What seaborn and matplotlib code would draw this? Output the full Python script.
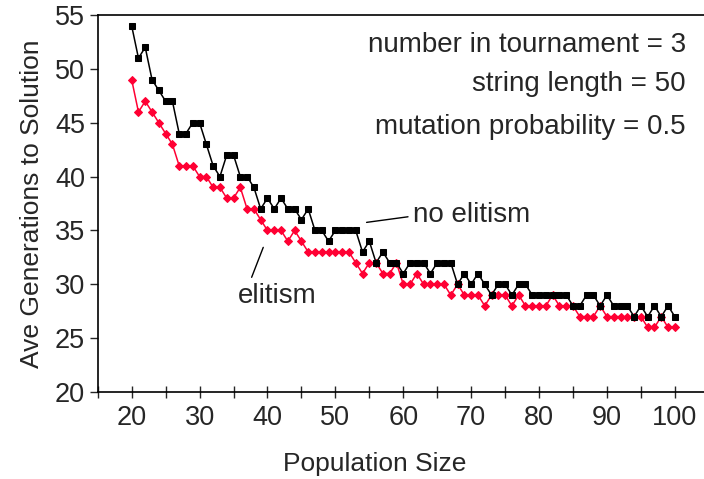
import matplotlib
matplotlib.use("Agg")
import matplotlib.pyplot as plt
import seaborn as sns
import pandas as pd

# Population sizes 20..100
population = list(range(20, 101))

no_elitism = [54, 51, 52, 49, 48, 47, 47, 44, 44, 45, 45, 43, 41, 40, 42, 42, 40, 40, 39, 37,
              38, 37, 38, 37, 37, 36, 37, 35, 35, 34, 35, 35, 35, 35, 33, 34, 32, 33, 32, 32,
              31, 32, 32, 32, 31, 32, 32, 32, 30, 31, 30, 31, 30, 29, 30, 30, 29, 30, 30, 29,
              29, 29, 29, 29, 29, 28, 28, 29, 29, 28, 29, 28, 28, 28, 27, 28, 27, 28, 27, 28,
              27]

elitism = [49, 46, 47, 46, 45, 44, 43, 41, 41, 41, 40, 40, 39, 39, 38, 38, 39, 37, 37, 36,
           35, 35, 35, 34, 35, 34, 33, 33, 33, 33, 33, 33, 33, 32, 31, 32, 32, 31, 31, 32,
           30, 30, 31, 30, 30, 30, 30, 29, 30, 29, 29, 29, 28, 29, 29, 29, 28, 29, 28, 28,
           28, 28, 29, 28, 28, 28, 27, 27, 27, 28, 27, 27, 27, 27, 27, 27, 26, 26, 27, 26,
           26]

param_lines = ["number in tournament = 3", "string length = 50", "mutation probability = 0.5"]

sns.set_style("ticks")
plt.rcParams["font.family"] = ["Liberation Sans", "DejaVu Sans"]

df = pd.DataFrame({"pop": population, "no": no_elitism, "el": elitism})

fig = plt.figure(figsize=(7.04, 4.79), dpi=100)
# the plot box runs a little past the right edge of the figure
ax = fig.add_axes([0.1388, 0.1816, 0.868, 0.787])

sns.lineplot(data=df, x="pop", y="el", ax=ax, color="#FF0033", marker="D",
             markersize=4.0, markeredgecolor="#FF0033", linewidth=1.1, zorder=2)
sns.lineplot(data=df, x="pop", y="no", ax=ax, color="black", marker="s",
             markersize=4.8, markeredgecolor="black", linewidth=1.1, zorder=3)

ax.set_xlim(15, 105)
ax.set_ylim(20, 55)
ax.set_xticks(range(15, 106, 5))
ax.set_xticklabels([str(v) if v % 10 == 0 and 20 <= v <= 100 else "" for v in range(15, 106, 5)])
ax.set_yticks(range(20, 56, 5))
ax.tick_params(axis="x", direction="inout", length=9, width=1, labelsize=19.5, pad=5)
ax.tick_params(axis="y", direction="out", length=6, width=1, labelsize=19.5, pad=3)
for s in ax.spines.values():
    s.set_linewidth(1.2)
    s.set_color("black")

ax.set_xlabel("Population Size", fontsize=19, labelpad=12)
ax.xaxis.set_label_coords(0.454, -0.16)
ax.set_ylabel("Ave Generations to Solution", fontsize=19, labelpad=8)

ys = [52.2, 48.6, 44.6]
for txt, yv in zip(param_lines, ys):
    ax.text(101.6, yv, txt, ha="right", va="center", fontsize=20)

ax.text(61.4, 36.4, "no elitism", ha="left", va="center", fontsize=20)
ax.plot([54.6, 60.7], [35.75, 36.27], color="black", linewidth=1)
ax.text(35.6, 28.9, "elitism", ha="left", va="center", fontsize=20)
ax.plot([37.67, 39.38], [30.65, 33.43], color="black", linewidth=1)

fig.savefig("out.png", dpi=100)
